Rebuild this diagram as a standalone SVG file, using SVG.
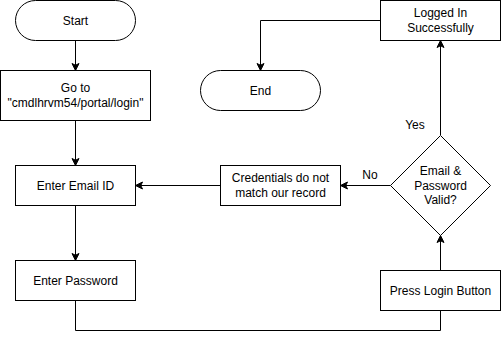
<svg xmlns="http://www.w3.org/2000/svg" width="501" height="339" viewBox="0 0 501 339">
  <style>
    .box { fill: #ffffff; stroke: #000000; stroke-width: 1; }
    .edge { fill: none; stroke: #000000; stroke-width: 1; marker-end: url(#arrow); }
    text { font-family: "Liberation Sans", Arial, sans-serif; font-size: 12px; fill: #000000; text-anchor: middle; dominant-baseline: central; }
  </style>
  <defs>
    <marker id="arrow" markerUnits="userSpaceOnUse" markerWidth="9" markerHeight="9" viewBox="0 0 9 9" refX="8" refY="4.5" orient="auto">
      <path d="M8,4.5 L1,1 L2.75,4.5 L1,8 Z" fill="#000000" stroke="#000000" stroke-width="1"/>
    </marker>
  </defs>

  <rect width="501" height="339" fill="#ffffff"/>

  <g id="connectors">
    <path class="edge" d="M75.5,40.5 V70.5"/>
    <path class="edge" d="M75.5,120.5 V165.5"/>
    <path class="edge" d="M75.5,205.5 V260.5"/>
    <path class="edge" d="M75.5,300.5 V330.5 H440.5 V270.5"/>
    <path class="edge" d="M440.5,270.5 V235.5"/>
    <path class="edge" d="M440.5,135 V40.5"/>
    <path class="edge" d="M380.5,20.5 H260.5 V70.5"/>
    <path class="edge" d="M390.5,185.5 H340.5"/>
    <path class="edge" d="M220.5,185.5 H135.5"/>
    <text x="370" y="175">No</text>
    <text x="415" y="125">Yes</text>
  </g>

  <g id="start">
    <rect class="box" x="15.5" y="0.5" width="120" height="40" rx="20" ry="20"/>
    <text x="75.5" y="20.5">Start</text>
  </g>

  <g id="goto-login">
    <rect class="box" x="0.5" y="70.5" width="150" height="50"/>
    <text x="75.5" y="88">Go to</text>
    <text x="75.5" y="103">"cmdlhrvm54/portal/login"</text>
  </g>

  <g id="enter-email">
    <rect class="box" x="15.5" y="165.5" width="120" height="40"/>
    <text x="75.5" y="185.5">Enter Email ID</text>
  </g>

  <g id="enter-password">
    <rect class="box" x="15.5" y="260.5" width="120" height="40"/>
    <text x="75.5" y="280.5">Enter Password</text>
  </g>

  <g id="press-login">
    <rect class="box" x="380.5" y="270.5" width="120" height="40"/>
    <text x="440.5" y="290.5">Press Login Button</text>
  </g>

  <g id="valid-check">
    <polygon class="box" points="440.5,135.5 490.5,185.5 440.5,235.5 390.5,185.5"/>
    <text x="440.5" y="171">Email &amp;</text>
    <text x="440.5" y="185.5">Password</text>
    <text x="440.5" y="200">Valid?</text>
  </g>

  <g id="no-match">
    <rect class="box" x="220.5" y="165.5" width="120" height="40"/>
    <text x="280.5" y="178">Credentials do not</text>
    <text x="280.5" y="193">match our record</text>
  </g>

  <g id="logged-in">
    <rect class="box" x="380.5" y="0.5" width="120" height="40"/>
    <text x="440.5" y="13">Logged In</text>
    <text x="440.5" y="28">Successfully</text>
  </g>

  <g id="end">
    <rect class="box" x="200.5" y="70.5" width="120" height="40" rx="20" ry="20"/>
    <text x="260.5" y="90.5">End</text>
  </g>
</svg>
